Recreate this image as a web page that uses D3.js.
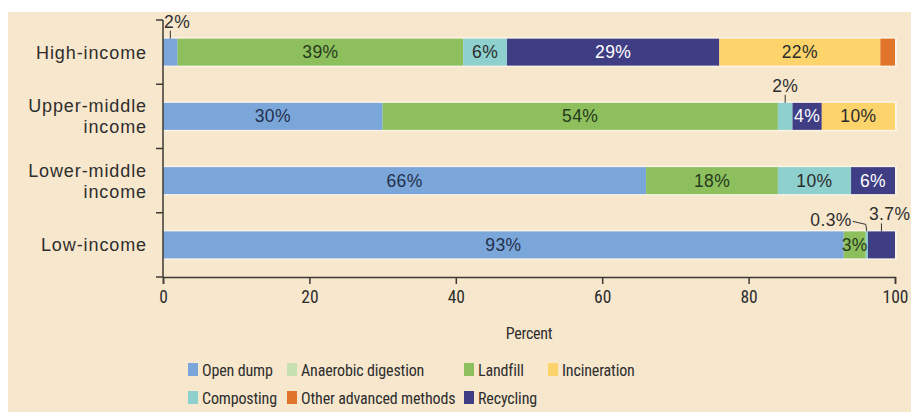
<!DOCTYPE html>
<html>
<head>
<meta charset="utf-8">
<script src="https://cdn.jsdelivr.net/npm/d3@7"></script>
<style>
  html, body { margin: 0; padding: 0; background: #ffffff; }
  svg { display: block; }
</style>
</head>
<body>
<svg id="chart" width="911" height="412"></svg>
<script>
// Waste treatment and disposal by income level (percent of total)
const categories = ["High-income", "Upper-middle income", "Lower-middle income", "Low-income"];
const categoryLines = [["High-income"], ["Upper-middle", "income"], ["Lower-middle", "income"], ["Low-income"]];

const openDump      = [2, 30, 66, 93];
const anaerobic     = [0, 0, 0, 0];
const landfill      = [39, 54, 18, 3];
const composting    = [6, 2, 10, 0.3];
const recycling     = [29, 4, 6, 3.7];
const incineration  = [22, 10, 0, 0];
const otherAdvanced = [2, 0, 0, 0];

const xTicks = [0, 20, 40, 60, 80, 100];
const xTitle = "Percent";

const seriesNames = ["Open dump", "Anaerobic digestion", "Landfill", "Composting",
                     "Recycling", "Incineration", "Other advanced methods"];
const seriesValues = [openDump, anaerobic, landfill, composting, recycling, incineration, otherAdvanced];
const seriesColors = ["#7ba6da", "#c6e0b2", "#8dbf5c", "#8ed0cd", "#3f3e85", "#fdd36c", "#e07428"];

// legend layout order (two rows of four / three)
const legendRows = [
  ["Open dump", "Anaerobic digestion", "Landfill", "Incineration"],
  ["Composting", "Other advanced methods", "Recycling"]
];

// segments whose value sits outside the bar with a leader line
const calloutSegments = [
  { category: "High-income", series: "Open dump", anchor: "start" },
  { category: "Upper-middle income", series: "Composting", anchor: "middle" },
  { category: "Low-income", series: "Composting", anchor: "elbow" },
  { category: "Low-income", series: "Recycling", anchor: "start" }
];

// build table rows for the stack generator
const table = categories.map((c, i) => {
  const row = { category: c };
  seriesNames.forEach((s, j) => { row[s] = seriesValues[j][i]; });
  return row;
});

const svg = d3.select("#chart");
const W = 911, H = 412;

// panel background
svg.append("rect").attr("x", 8).attr("y", 12).attr("width", W - 8).attr("height", H - 12)
  .attr("fill", "#f7e7cd");

const x = d3.scaleLinear().domain([0, 100]).range([163, 895]);
const y = d3.scaleBand().domain(categories).range([20, 277])
  .paddingInner(0.58).paddingOuter(0.29);
const color = d3.scaleOrdinal().domain(seriesNames).range(seriesColors);

const stack = d3.stack().keys(seriesNames);
const stacked = stack(table);

const bandFont = "'Liberation Sans', Arial, sans-serif";
const narrowFont = "'Roboto Condensed', 'DejaVu Sans Condensed', sans-serif";
const textColor = "#2e2e2e";

// soft halo behind each bar
svg.append("g").selectAll("rect").data(categories).join("rect")
  .attr("x", x(0) + 1).attr("y", d => y(d) - 1.5)
  .attr("width", x(100) - x(0) + 1).attr("height", y.bandwidth() + 3)
  .attr("fill", "#fbf3e6");

// stacked bars
const layers = svg.append("g").selectAll("g").data(stacked).join("g")
  .attr("fill", d => color(d.key));
layers.selectAll("rect").data(d => d.map(v => Object.assign(v, { key: d.key })))
  .join("rect")
  .attr("x", d => x(d[0]))
  .attr("y", d => y(d.data.category))
  .attr("width", d => Math.max(0, x(d[1]) - x(d[0])))
  .attr("height", y.bandwidth());

// value labels
const fmt = v => (Number.isInteger(v) ? v : v.toFixed(1)) + "%";
const inBarInk = { "Open dump": "#23304a", "Landfill": "#263a1c", "Recycling": "#ffffff" };

const labels = svg.append("g");
stacked.forEach(layer => {
  layer.forEach(seg => {
    const v = seg.data[layer.key];
    if (!v) return;
    const cat = seg.data.category;
    const x0 = x(seg[0]), x1 = x(seg[1]);
    const cx = (x0 + x1) / 2;
    const top = y(cat);
    const callout = calloutSegments.find(c => c.category === cat && c.series === layer.key);
    if (!callout) {
      if (layer.key === "Other advanced methods") return;
      labels.append("text")
        .attr("x", cx).attr("y", top + y.bandwidth() / 2 + 6)
        .attr("text-anchor", "middle")
        .attr("font-family", bandFont).attr("font-size", 17.5)
        .attr("letter-spacing", 0.4)
        .attr("fill", inBarInk[layer.key] || "#2b2b2b")
        .text(fmt(v));
    } else if (callout.anchor === "elbow") {
      labels.append("path")
        .attr("d", `M${cx - 14},${top - 10} L${cx - 1},${top - 7} L${cx},${top}`)
        .attr("fill", "none").attr("stroke", "#333").attr("stroke-width", 1);
      labels.append("text")
        .attr("x", cx - 15).attr("y", top - 5)
        .attr("text-anchor", "end")
        .attr("font-family", bandFont).attr("font-size", 17.5).attr("letter-spacing", 0.4)
        .attr("fill", textColor).text(fmt(v));
    } else {
      labels.append("line")
        .attr("x1", cx).attr("x2", cx).attr("y1", top - 8).attr("y2", top)
        .attr("stroke", "#333").attr("stroke-width", 1);
      labels.append("text")
        .attr("x", callout.anchor === "start" ? x0 + 1 : cx)
        .attr("y", top - 11)
        .attr("text-anchor", callout.anchor)
        .attr("font-family", bandFont).attr("font-size", 17.5).attr("letter-spacing", 0.4)
        .attr("fill", textColor).text(fmt(v));
    }
  });
});

// y axis: vertical line with ticks at the band boundaries
const axisColor = "#3d3a36";
const yBounds = d3.range(categories.length + 1).map(i => y.range()[0] + i * y.step());
const yAxis = svg.append("g");
yAxis.append("line").attr("x1", x(0)).attr("x2", x(0))
  .attr("y1", yBounds[0]).attr("y2", yBounds[yBounds.length - 1])
  .attr("stroke", axisColor).attr("stroke-width", 1.5);
yAxis.selectAll("line.tick").data(yBounds).join("line").attr("class", "tick")
  .attr("x1", x(0) - 7).attr("x2", x(0)).attr("y1", d => d).attr("y2", d => d)
  .attr("stroke", axisColor).attr("stroke-width", 1.5);

// category labels
categories.forEach((c, i) => {
  const lines = categoryLines[i];
  const cy = y(c) + y.bandwidth() / 2;
  const lh = 21;
  lines.forEach((t, k) => {
    svg.append("text")
      .attr("x", 147)
      .attr("y", cy + (k - (lines.length - 1) / 2) * lh + 6.5)
      .attr("text-anchor", "end")
      .attr("font-family", bandFont).attr("font-size", 18).attr("letter-spacing", 0.9)
      .attr("fill", textColor).text(t);
  });
});

// x axis
const xAxisY = yBounds[yBounds.length - 1];
const xAxis = svg.append("g").attr("transform", `translate(0,${xAxisY})`)
  .call(d3.axisBottom(x).tickValues(xTicks).tickSize(7).tickPadding(7).tickFormat(d3.format("d")));
xAxis.select(".domain").attr("stroke", axisColor).attr("stroke-width", 1.5);
xAxis.selectAll(".tick line").attr("stroke", axisColor).attr("stroke-width", 1.5);
xAxis.selectAll(".tick text")
  .attr("font-family", narrowFont).attr("font-size", 17.5).attr("fill", textColor);

svg.append("text").attr("x", (x(0) + x(100)) / 2).attr("y", 339)
  .attr("text-anchor", "middle")
  .attr("font-family", narrowFont).attr("font-size", 16).attr("letter-spacing", -0.3)
  .attr("fill", textColor).text(xTitle);

// legend
const legendCols = [188, 287, 464, 548];
const legendRowY = [370, 398];
legendRows.forEach((row, r) => {
  row.forEach((name, k) => {
    const g = svg.append("g").attr("transform", `translate(${legendCols[k]},${legendRowY[r]})`);
    g.append("rect").attr("x", 0).attr("y", -7).attr("width", 10).attr("height", 13)
      .attr("fill", color(name));
    g.append("text").attr("x", 14).attr("y", 6)
      .attr("font-family", narrowFont).attr("font-size", 16).attr("letter-spacing", -0.15)
      .attr("fill", textColor).text(name);
  });
});
</script>
</body>
</html>
